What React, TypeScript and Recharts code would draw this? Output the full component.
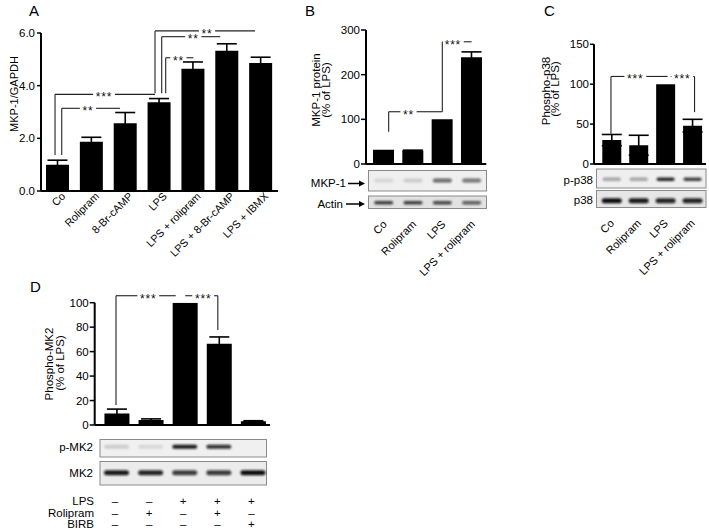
import React from 'react';
import { BarChart, Bar, XAxis, YAxis, ErrorBar, ReferenceLine } from 'recharts';

const FONT = '"Liberation Sans", Arial, Helvetica, sans-serif';
const LINE = '#222';

// ---------- Panel A ----------
const catsA = ['Co', 'Rolipram', '8-Br-cAMP', 'LPS', 'LPS + rolipram', 'LPS + 8-Br-cAMP', 'LPS + IBMX'];
const valsA = [1.0, 1.87, 2.57, 3.37, 4.64, 5.33, 4.86];
const errA = [0.17, 0.17, 0.41, 0.14, 0.26, 0.26, 0.22];
const ticksA = [0, 2, 4, 6];

// ---------- Panel B ----------
const catsB = ['Co', 'Rolipram', 'LPS', 'LPS + rolipram'];
const valsB = [32, 30, 100, 239];
const errB = [0, 1, 0, 12];
const ticksB = [0, 100, 200, 300];
const mkp1Band = [0.1, 0.15, 0.6, 0.55];
const actinBand = [0.8, 0.8, 0.75, 0.65];

// ---------- Panel C ----------
const catsC = ['Co', 'Rolipram', 'LPS', 'LPS + rolipram'];
const valsC = [30, 23.5, 100, 48];
const errC = [7, 12.5, 0, 8];
const ticksC = [0, 50, 100, 150];
const pp38Band = [0.35, 0.35, 0.9, 0.8];
const p38Band = [1, 0.95, 0.9, 0.9];

// ---------- Panel D ----------
const catsD = ['1', '2', '3', '4', '5'];
const valsD = [9.5, 4, 100, 66.5, 3];
const errD = [3.5, 1, 0, 5.5, 0.5];
const ticksD = [0, 20, 40, 60, 80, 100];
const lpsRow = ['–', '–', '+', '+', '+'];
const rolRow = ['–', '+', '–', '+', '–'];
const birbRow = ['–', '–', '–', '–', '+'];
const pmk2Band = [0.15, 0.1, 0.95, 0.85, 0];
const mk2Band = [0.95, 0.9, 0.8, 0.8, 1];

const rows = (cats: string[], vals: number[], errs: number[]) =>
  cats.map((c, i) => ({ cat: c, v: vals[i], e: errs[i] }));

const dataA = rows(catsA, valsA, errA);
const dataB = rows(catsB, valsB, errB);
const dataC = rows(catsC, valsC, errC);
const dataD = rows(catsD, valsD, errD);

// ---------- significance brackets (annotation config) ----------
type Br = { a: string; b: string; y: number; dxA: number; dxB: number; downA?: number; downB?: number; label: string; f: number };

const bracketsA: Br[] = [
  { a: 'Co', b: '8-Br-cAMP', y: 3.14, dxA: 3.8, dxB: -5.6, downA: 1.37, label: '**', f: 0.45 },
  { a: 'Co', b: 'LPS', y: 3.67, dxA: -2.9, dxB: -4.5, downA: 1.37, label: '***', f: 0.49 },
  { a: 'LPS', b: 'LPS + IBMX', y: 6.08, dxA: -4.5, dxB: -6, downA: 3.71, label: '**', f: 0.52 },
  { a: 'LPS', b: 'LPS + 8-Br-cAMP', y: 5.86, dxA: 2.2, dxB: -7, downA: 3.71, label: '**', f: 0.54 },
  { a: 'LPS', b: 'LPS + rolipram', y: 5.06, dxA: 6.2, dxB: 0, downA: 3.71, label: '**', f: 0.46 },
];
const bracketsB: Br[] = [
  { a: 'Co', b: 'LPS', y: 117, dxA: 5, dxB: 0, downA: 72, label: '**', f: 0.37 },
  { a: 'LPS', b: 'LPS + rolipram', y: 273.6, dxA: 0, dxB: 0, downA: 117, label: '***', f: 0.36 },
];
const bracketsC: Br[] = [
  { a: 'Co', b: 'LPS', y: 109.7, dxA: -0.8, dxB: 2, downA: 38, label: '***', f: 0.43 },
  { a: 'LPS', b: 'LPS + rolipram', y: 109.7, dxA: 5, dxB: 2, downB: 65, label: '***', f: 0.49 },
];
const bracketsD: Br[] = [
  { a: '1', b: '3', y: 105.7, dxA: -0.5, dxB: -9, downA: 16.3, label: '***', f: 0.54 },
  { a: '3', b: '4', y: 105.7, dxA: 0.5, dxB: -1, downB: 77.7, label: '***', f: 0.55 },
];

const hShape = (dxA: number, dxB: number, label: string, f: number) => (p: any) => {
  const x1 = p.x1 + dxA;
  const x2 = p.x2 + dxB;
  const y = p.y1;
  const w = label.length * 5.6;
  const cx = x1 + (x2 - x1) * f;
  return (
    <g>
      <line x1={x1} y1={y} x2={cx - w / 2 - 2.5} y2={y} stroke={LINE} strokeWidth={1.1} />
      <line x1={cx + w / 2 + 2.5} y1={y} x2={x2} y2={y} stroke={LINE} strokeWidth={1.1} />
      <text x={cx} y={y + 6.8} textAnchor="middle" fontSize={12} letterSpacing={0.8} fill="#111" fontFamily={FONT}>
        {label}
      </text>
    </g>
  );
};
const vShape = (dx: number) => (p: any) => (
  <line x1={p.x1 + dx} y1={p.y1} x2={p.x2 + dx} y2={p.y2} stroke={LINE} strokeWidth={1.1} />
);

function renderBrackets(list: Br[], prefix: string) {
  const out: any[] = [];
  list.forEach((b, i) => {
    out.push(
      <ReferenceLine key={`${prefix}h${i}`} segment={[{ x: b.a, y: b.y }, { x: b.b, y: b.y }]} ifOverflow="visible" shape={hShape(b.dxA, b.dxB, b.label, b.f)} />
    );
    if (b.downA !== undefined)
      out.push(
        <ReferenceLine key={`${prefix}a${i}`} segment={[{ x: b.a, y: b.downA }, { x: b.a, y: b.y }]} ifOverflow="visible" shape={vShape(b.dxA)} />
      );
    if (b.downB !== undefined)
      out.push(
        <ReferenceLine key={`${prefix}b${i}`} segment={[{ x: b.b, y: b.downB }, { x: b.b, y: b.y }]} ifOverflow="visible" shape={vShape(b.dxB)} />
      );
  });
  return out;
}

// ---------- blot band ----------
const Band = ({ cx, cy, w, h, a }: { cx: number; cy: number; w: number; h: number; a: number }) =>
  a > 0 ? (
    <rect x={cx - w / 2} y={cy - h / 2} width={w} height={h} rx={h / 2} fill="#111" fillOpacity={a} filter="url(#bandBlur)" />
  ) : null;

const rotLabel = (x: number, y: number, text: string, fs: number) => (
  <text x={x} y={y} transform={`rotate(-45 ${x} ${y})`} textAnchor="end" fontSize={fs} fill="#000" fontFamily={FONT}>
    {text}
  </text>
);

const TickA = (p: any) => {
  const { x, y, payload } = p;
  return <g>{rotLabel(x + 8, y + 6, payload.value, 10.8)}</g>;
};

const TickB = (p: any) => {
  const { x, y, payload } = p;
  const i = catsB.indexOf(payload.value);
  return (
    <g>
      <Band cx={x} cy={y + 16.5} w={19} h={4} a={mkp1Band[i]} />
      <Band cx={x} cy={y + 38.7} w={19} h={3.5} a={actinBand[i]} />
      {rotLabel(x + 4, y + 61, payload.value, 11)}
    </g>
  );
};

const TickC = (p: any) => {
  const { x, y, payload } = p;
  const i = catsC.indexOf(payload.value);
  return (
    <g>
      <Band cx={x} cy={y + 15.3} w={18} h={3.5} a={pp38Band[i]} />
      <Band cx={x} cy={y + 36.7} w={20} h={5} a={p38Band[i]} />
      {rotLabel(x + 3, y + 60, payload.value, 11)}
    </g>
  );
};

const TickD = (p: any) => {
  const { x, y, payload } = p;
  const i = catsD.indexOf(payload.value);
  const sx = x - 1.5;
  return (
    <g>
      <Band cx={x} cy={y + 21.7} w={25} h={4} a={pmk2Band[i]} />
      <Band cx={x} cy={y + 47.7} w={25} h={5} a={mk2Band[i]} />
      <text x={sx} y={y + 79.5} textAnchor="middle" fontSize={11.5} fill="#000" fontFamily={FONT}>{lpsRow[i]}</text>
      <text x={sx} y={y + 91.5} textAnchor="middle" fontSize={11.5} fill="#000" fontFamily={FONT}>{rolRow[i]}</text>
      <text x={sx} y={y + 103} textAnchor="middle" fontSize={11.5} fill="#000" fontFamily={FONT}>{birbRow[i]}</text>
    </g>
  );
};

const axisLine = { stroke: '#000', strokeWidth: 2 };
const tickLine = { stroke: '#000', strokeWidth: 1.5 };
const yTick = { fill: '#000', fontSize: 11.5, fontFamily: FONT };

const abs: React.CSSProperties = { position: 'absolute', left: 0, top: 0 };

// decorative blot strip frames
const strips = [
  [368.5, 170.5, 118, 20.5, '#efefef'],
  [368.5, 196, 118, 12.5, '#e2e2e2'],
  [596.5, 169, 109.5, 19, '#efefef'],
  [596.5, 190.5, 109.5, 17, '#e6e6e6'],
  [100, 439.5, 166.5, 17.5, '#f0f0f0'],
  [100, 461.5, 166.5, 23.5, '#ececec'],
] as const;

const Arrow = ({ x1, x2, y }: { x1: number; x2: number; y: number }) => (
  <g>
    <line x1={x1} y1={y} x2={x2 - 4} y2={y} stroke="#000" strokeWidth={1.5} />
    <polygon points={`${x2 - 6},${y - 3} ${x2},${y} ${x2 - 6},${y + 3}`} fill="#000" />
  </g>
);

const T = (props: any) => <text fill="#000" fontFamily={FONT} fontSize={11.5} {...props} />;
const VLabel = ({ x, y, children, fs = 11.5 }: { x: number; y: number; children: string; fs?: number }) => (
  <text x={x} y={y} transform={`rotate(-90 ${x} ${y})`} textAnchor="middle" fill="#000" fontFamily={FONT} fontSize={fs}>
    {children}
  </text>
);

export default function App() {
  return (
    <div style={{ ...abs, width: 709, height: 531, background: '#fff', fontFamily: FONT, overflow: 'hidden' }}>
      <svg width={709} height={531} style={abs}>
        <defs>
          <filter id="bandBlur" x="-50%" y="-150%" width="200%" height="400%">
            <feGaussianBlur stdDeviation="0.8" />
          </filter>
        </defs>
        <rect x={0} y={0} width={709} height={531} fill="#fff" />
        {strips.map((s, i) => (
          <rect key={i} x={s[0]} y={s[1]} width={s[2]} height={s[3]} fill={s[4]} stroke="#8a8a8a" strokeWidth={1} />
        ))}
      </svg>

      {/* Panel A */}
      <div style={abs}>
        <BarChart width={709} height={531} data={dataA} margin={{ top: 33, right: 431, bottom: 300, left: 0 }}>
          <XAxis dataKey="cat" type="category" interval={0} height={40} tickLine={false} tickSize={0} tickMargin={0} axisLine={axisLine} tick={(p: any) => <TickA {...p} />} />
          <YAxis width={41} domain={[0, 6]} ticks={ticksA} tickFormatter={(v: number) => v.toFixed(1)} tick={yTick} tickSize={4} tickMargin={2} axisLine={axisLine} tickLine={tickLine} allowDataOverflow />
          <Bar dataKey="v" fill="#000" barSize={23} isAnimationActive={false}>
            <ErrorBar dataKey="e" width={10} stroke="#000" strokeWidth={1.6} direction="y" isAnimationActive={false} />
          </Bar>
          {renderBrackets(bracketsA, 'A')}
        </BarChart>
      </div>

      {/* Panel B */}
      <div style={abs}>
        <BarChart width={709} height={531} data={dataB} margin={{ top: 30, right: 222.7, bottom: 297, left: 326 }}>
          <XAxis dataKey="cat" type="category" interval={0} height={70} padding={{ left: 3, right: 0 }} tickLine={false} tickSize={0} tickMargin={0} axisLine={axisLine} tick={(p: any) => <TickB {...p} />} />
          <YAxis width={40} domain={[0, 300]} ticks={ticksB} tick={yTick} tickSize={5} tickMargin={1} axisLine={axisLine} tickLine={tickLine} allowDataOverflow />
          <Bar dataKey="v" fill="#000" barSize={21} isAnimationActive={false}>
            <ErrorBar dataKey="e" width={10} stroke="#000" strokeWidth={1.6} direction="y" isAnimationActive={false} />
          </Bar>
          {renderBrackets(bracketsB, 'B')}
        </BarChart>
      </div>

      {/* Panel C */}
      <div style={abs}>
        <BarChart width={709} height={531} data={dataC} margin={{ top: 44.3, right: 3, bottom: 297, left: 554 }}>
          <XAxis dataKey="cat" type="category" interval={0} height={70} padding={{ left: 4.3, right: 0 }} tickLine={false} tickSize={0} tickMargin={0} axisLine={axisLine} tick={(p: any) => <TickC {...p} />} />
          <YAxis width={40} domain={[0, 150]} ticks={ticksC} tick={yTick} tickSize={4} tickMargin={1} axisLine={axisLine} tickLine={tickLine} allowDataOverflow />
          <Bar dataKey="v" fill="#000" barSize={19} isAnimationActive={false}>
            <ErrorBar dataKey="e" width={10} stroke="#000" strokeWidth={1.6} direction="y" isAnimationActive={false} />
          </Bar>
          {renderBrackets(bracketsC, 'C')}
        </BarChart>
      </div>

      {/* Panel D */}
      <div style={abs}>
        <BarChart width={709} height={531} data={dataD} margin={{ top: 302.7, right: 439, bottom: 6, left: 54.7 }}>
          <XAxis dataKey="cat" type="category" interval={0} height={100} padding={{ left: 4.75, right: 0 }} tickLine={false} tickSize={0} tickMargin={0} axisLine={axisLine} tick={(p: any) => <TickD {...p} />} />
          <YAxis width={40} domain={[0, 100]} ticks={ticksD} tick={yTick} tickSize={5} tickMargin={1} axisLine={axisLine} tickLine={tickLine} allowDataOverflow />
          <Bar dataKey="v" fill="#000" barSize={25} isAnimationActive={false}>
            <ErrorBar dataKey="e" width={10} stroke="#000" strokeWidth={1.6} direction="y" isAnimationActive={false} />
          </Bar>
          {renderBrackets(bracketsD, 'D')}
        </BarChart>
      </div>

      {/* Text overlay */}
      <svg width={709} height={531} style={{ ...abs, pointerEvents: 'none' }}>
        <T x={29} y={15.5} fontSize={15}>A</T>
        <T x={305} y={16} fontSize={15}>B</T>
        <T x={544} y={16} fontSize={15}>C</T>
        <T x={30} y={292} fontSize={15}>D</T>

        <VLabel x={18} y={94} fs={11}>MKP-1/GAPDH</VLabel>

        <VLabel x={320} y={90}>MKP-1 protein</VLabel>
        <VLabel x={329.5} y={90}>(% of LPS)</VLabel>

        <VLabel x={549.5} y={91}>Phospho-p38</VLabel>
        <VLabel x={559} y={89}>(% of LPS)</VLabel>

        <VLabel x={53} y={364}>Phospho-MK2</VLabel>
        <VLabel x={63.5} y={363}>(% of LPS)</VLabel>

        <T x={346} y={187} textAnchor="end">MKP-1</T>
        <Arrow x1={348} x2={365} y={183.5} />
        <T x={343} y={208} textAnchor="end">Actin</T>
        <Arrow x1={346} x2={365} y={204} />

        <T x={593} y={183.5} textAnchor="end">p-p38</T>
        <T x={593} y={204} textAnchor="end">p38</T>

        <T x={93} y={450.5} textAnchor="end">p-MK2</T>
        <T x={93} y={476.5} textAnchor="end">MK2</T>

        <T x={94} y={504.5} textAnchor="end">LPS</T>
        <T x={94} y={516.5} textAnchor="end">Rolipram</T>
        <T x={94} y={528} textAnchor="end">BIRB</T>
      </svg>
    </div>
  );
}
